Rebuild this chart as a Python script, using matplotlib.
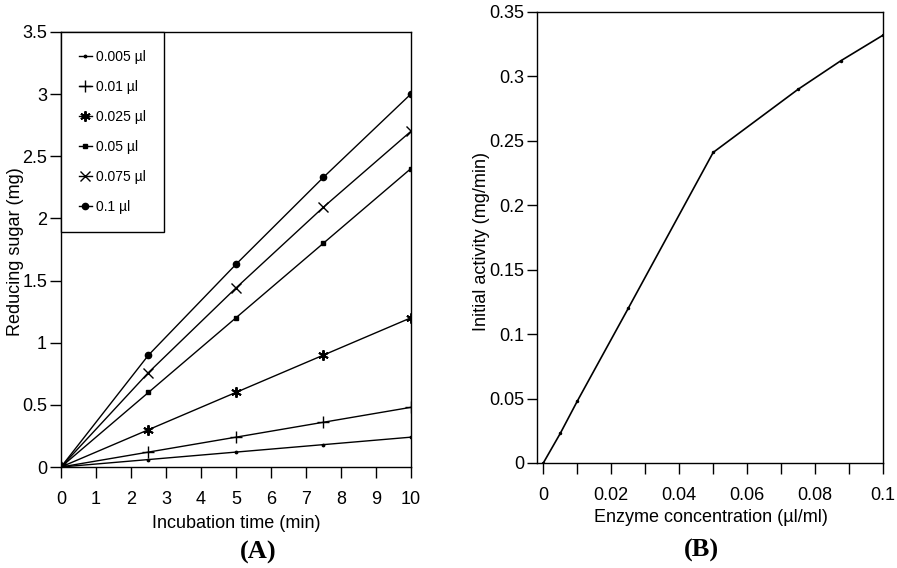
import matplotlib
matplotlib.use("Agg")
import matplotlib.pyplot as plt

plt.rcParams['font.family'] = ['Liberation Sans', 'DejaVu Sans']

# Panel A data
time_min = [0, 2.5, 5, 7.5, 10]
series_labels = ["0.005 µl", "0.01 µl", "0.025 µl", "0.05 µl", "0.075 µl", "0.1 µl"]
sugar_0005 = [0, 0.06, 0.12, 0.18, 0.24]
sugar_001 = [0, 0.12, 0.24, 0.36, 0.48]
sugar_0025 = [0, 0.30, 0.60, 0.90, 1.20]
sugar_005 = [0, 0.60, 1.20, 1.80, 2.40]
sugar_0075 = [0, 0.76, 1.44, 2.09, 2.70]
sugar_01 = [0, 0.90, 1.63, 2.33, 3.00]
a_xticks = [0, 1, 2, 3, 4, 5, 6, 7, 8, 9, 10]
a_yticks = [0, 0.5, 1, 1.5, 2, 2.5, 3, 3.5]
a_yticklabels = ["0", "0.5", "1", "1.5", "2", "2.5", "3", "3.5"]

# Panel B data
enzyme_conc = [0, 0.005, 0.01, 0.025, 0.05, 0.075, 0.0875, 0.1]
activity = [0, 0.023, 0.048, 0.120, 0.241, 0.290, 0.312, 0.332]
b_xticks = [0, 0.02, 0.04, 0.06, 0.08, 0.1]
b_xticklabels = ["0", "0.02", "0.04", "0.06", "0.08", "0.1"]
b_xminor = [0.01, 0.03, 0.05, 0.07, 0.09]
b_yticks = [0, 0.05, 0.1, 0.15, 0.2, 0.25, 0.3, 0.35]
b_yticklabels = ["0", "0.05", "0.1", "0.15", "0.2", "0.25", "0.3", "0.35"]

fig = plt.figure(figsize=(8.97, 5.68), dpi=100)
axA = fig.add_axes([0.068, 0.1778, 0.390, 0.766])
axB = fig.add_axes([0.5987, 0.1849, 0.3857, 0.794])

fs = 13
styles = [
    dict(marker='.', ms=3.5),
    dict(marker='+', ms=8, mew=1.0),
    dict(marker=(6, 2, 0), ms=7.5, mew=1.4),
    dict(marker='s', ms=3.5),
    dict(marker='x', ms=7, mew=1.0),
    dict(marker='o', ms=4.5),
]
series = [sugar_0005, sugar_001, sugar_0025, sugar_005, sugar_0075, sugar_01]
for ys, lab, st in zip(series, series_labels, styles):
    axA.plot(time_min, ys, color='black', lw=1.0, label=lab, **st)

axA.set_xlim(0, 10)
axA.set_ylim(0, 3.5)
axA.set_xticks(a_xticks)
axA.set_xticklabels([str(t) for t in a_xticks])
axA.set_yticks(a_yticks)
axA.set_yticklabels(a_yticklabels)
axA.tick_params(axis='x', direction='out', length=8, width=1, labelsize=fs, pad=9)
axA.tick_params(axis='y', direction='out', length=8, width=1, labelsize=fs, pad=2)
axA.set_xlabel("Incubation time (min)", fontsize=fs, va='center')
axA.xaxis.set_label_coords((235.5 - 61) / 349, (467 - 523) / 435)
axA.set_ylabel("Reducing sugar (mg)", fontsize=fs, va='center')
axA.yaxis.set_label_coords((16 - 61) / 349, 0.495)
leg = axA.legend(loc='upper left', bbox_to_anchor=(0, 1), borderaxespad=0,
                 fontsize=10, frameon=True, fancybox=False, framealpha=1,
                 edgecolor='black', handlelength=0.9, handletextpad=0.35,
                 labelspacing=1.15, borderpad=1.3)
leg.get_frame().set_linewidth(1.0)

axB.plot(enzyme_conc, activity, color='black', lw=1.2, marker='.', ms=3)
axB.set_xlim(-0.00185, 0.1)
axB.set_ylim(0, 0.35)
axB.set_xticks(b_xticks)
axB.set_xticklabels(b_xticklabels)
axB.set_xticks(b_xminor, minor=True)
axB.set_yticks(b_yticks)
axB.set_yticklabels(b_yticklabels)
axB.tick_params(axis='x', which='both', direction='out', length=8, width=1, labelsize=fs, pad=9)
axB.tick_params(axis='y', which='both', direction='out', length=7, width=1, labelsize=fs, pad=2)
axB.set_xlabel("Enzyme concentration (µl/ml)", fontsize=fs, va='center')
axB.xaxis.set_label_coords((711 - 537) / 346, (463 - 518) / 451)
axB.set_ylabel("Initial activity (mg/min)", fontsize=fs, va='center')
axB.yaxis.set_label_coords((481 - 537) / 346, 0.49)

for ax in (axA, axB):
    for sp in ax.spines.values():
        sp.set_linewidth(1.0)

fig.text(258 / 897, 1 - 552 / 568, "(A)", ha='center', va='center', fontsize=19,
         fontweight='bold', family='Liberation Serif')
fig.text(701 / 897, 1 - 550 / 568, "(B)", ha='center', va='center', fontsize=19,
         fontweight='bold', family='Liberation Serif')

fig.savefig("out.png", dpi=100)
